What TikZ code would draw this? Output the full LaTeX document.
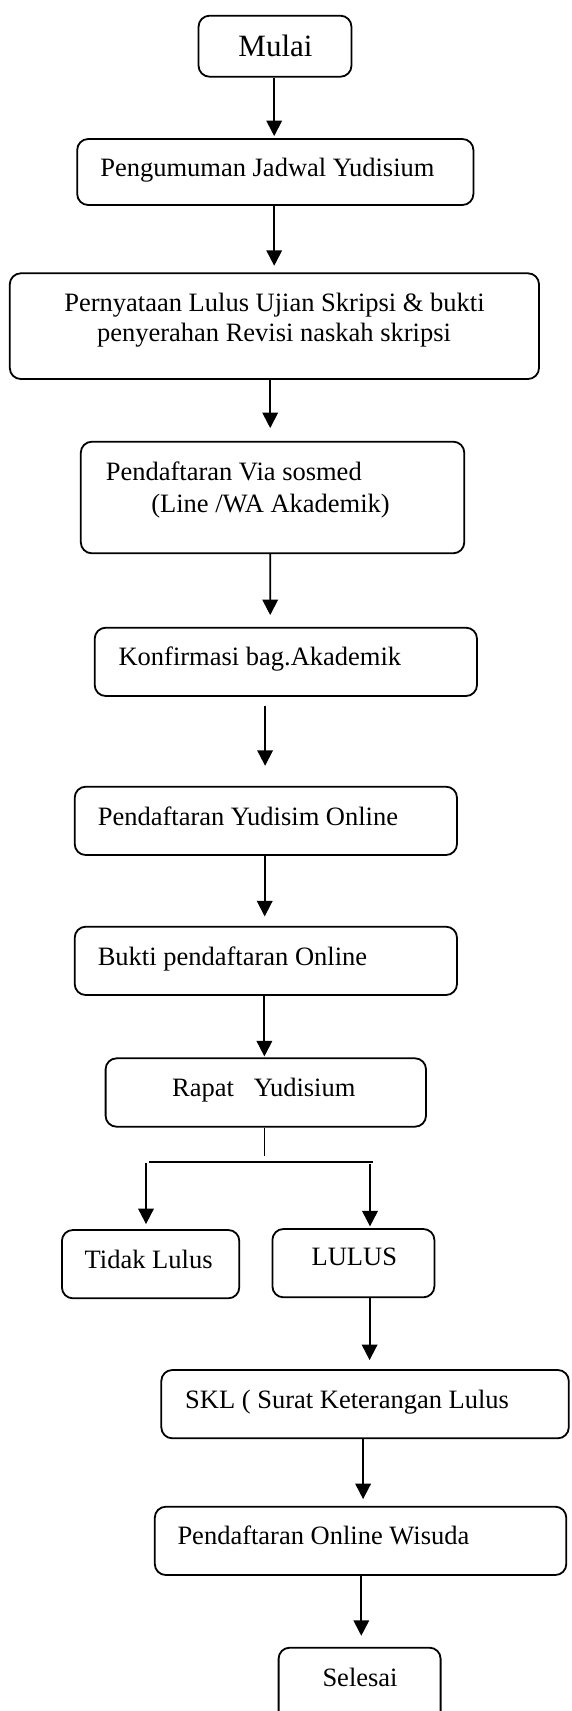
\documentclass[tikz,border=0pt]{standalone}
\usepackage{fontspec}
\setmainfont{Liberation Serif}
\usetikzlibrary{arrows.meta}

\tikzset{
  box/.style={draw, line width=1.8pt, rounded corners=11pt, inner sep=0pt},
  txt/.style={inner sep=0pt, anchor=base west, font=\fontsize{26.5}{30}\selectfont},
  ctxt/.style={txt, anchor=base},
  link/.style={line width=1.9pt},
  arr/.style={link, -{Triangle[width=15.5pt,length=15.5pt]}}
}

\begin{document}
\begin{tikzpicture}[x=1pt, y=-1pt]
\useasboundingbox (0,0) rectangle (571,1711);
\clip (0,0) rectangle (571,1711);

% process boxes
\node[box, minimum width=152.9pt, minimum height=61pt]   (mulai)  at (275,46.2) {};
\node[box, minimum width=396.2pt, minimum height=66pt]   (peng)   at (275.3,172) {};
\node[box, minimum width=529.2pt, minimum height=105.7pt](pern)   at (274.4,326.15) {};
\node[box, minimum width=383.5pt, minimum height=111.6pt](via)    at (272.55,497.5) {};
\node[box, minimum width=382.3pt, minimum height=68.3pt] (konf)   at (285.85,661.85) {};
\node[box, minimum width=382.3pt, minimum height=68.3pt] (yon)    at (265.85,820.85) {};
\node[box, minimum width=382.3pt, minimum height=68.3pt] (bukti)  at (265.85,960.85) {};
\node[box, minimum width=320.4pt, minimum height=68.4pt] (rapat)  at (265.8,1092.5) {};
\node[box, minimum width=177.4pt, minimum height=68.3pt] (tidak)  at (150.6,1264.15) {};
\node[box, minimum width=162pt,   minimum height=68.3pt] (lulus)  at (353.4,1263.15) {};
\node[box, minimum width=407.5pt, minimum height=68.3pt] (skl)    at (365.05,1404.15) {};
\node[box, minimum width=411.5pt, minimum height=68.3pt] (wisuda) at (360.55,1540.85) {};
\node[box, minimum width=162pt,   minimum height=74pt]   (selesai)at (359.6,1684.7) {};

% labels
\node[ctxt, font=\fontsize{31}{34}\selectfont] (t-mulai) at (275.5,56.7) {Mulai};
\node[txt]  (t-peng)   at (100.1,176.7) {Pengumuman Jadwal Yudisium};
\node[ctxt] (t-pern1)  at (274.5,311.7) {Pernyataan Lulus Ujian Skripsi \& bukti};
\node[ctxt] (t-pern2)  at (274,341.7)   {penyerahan Revisi naskah skripsi};
\node[txt]  (t-via1)   at (105.6,480)   {Pendaftaran Via sosmed};
\node[txt]  (t-via2)   at (151.1,512.7) {(Line /WA Akademik)};
\node[txt]  (t-konf)   at (118.4,665)   {Konfirmasi bag.Akademik};
\node[txt]  (t-yon)    at (97.6,825)    {Pendaftaran Yudisim Online};
\node[txt]  (t-bukti)  at (97.6,965)    {Bukti pendaftaran Online};
\node[txt]  (t-rapat)  at (171.9,1096.7){Rapat\ \ \ Yudisium};
\node[txt]  (t-tidak)  at (84.5,1268.3) {Tidak Lulus};
\node[txt]  (t-lulus)  at (311.4,1265.7){LULUS};
\node[txt]  (t-skl)    at (185,1408.3)  {SKL ( Surat Keterangan Lulus};
\node[txt]  (t-wisuda) at (177.3,1544.3){Pendaftaran Online Wisuda};
\node[txt]  (t-sel)    at (322.3,1686)  {Selesai};

% main flow
\draw[arr, shorten >=2pt]  ([xshift=-0.8pt]mulai.south) -- ([xshift=-0.8pt]mulai.south |- peng.north);
\draw[arr, shorten >=6.6pt]([xshift=-1.1pt]peng.south) -- ([xshift=-1.1pt]peng.south |- pern.north);
\draw[arr, shorten >=12.7pt]([xshift=-4.2pt]pern.south) -- ([xshift=-2.35pt]via.north);
\draw[arr, shorten >=11.7pt]([xshift=-2.35pt]via.south) -- ([xshift=-15.65pt]konf.north);
\draw[arr, shorten <=9pt, shorten >=20pt]([xshift=-20.75pt]konf.south) -- ([xshift=-0.75pt]yon.north);
\draw[arr, shorten >=9.4pt]([xshift=-1.15pt]yon.south) -- ([xshift=-1.15pt]bukti.north);
\draw[arr, shorten >=1pt]  ([xshift=-1.45pt]bukti.south) -- ([xshift=-1.4pt]rapat.north);

% branch after the meeting
\coordinate (stemend) at (264.3,1156);
\coordinate (barL) at (149.3,1161.7);
\coordinate (barR) at (373.3,1161.7);
\coordinate (dropL) at (146,1163.3);
\coordinate (dropR) at (370,1164.3);
\draw[line width=1.5pt] ([xshift=-1.5pt]rapat.south) -- (stemend);
\draw[link] (barL) -- (barR);
\draw[arr, shorten >=5pt]   (dropL) -- (dropL |- tidak.north);
\draw[arr, shorten >=1.7pt] (dropR) -- (dropR |- lulus.north);

% remaining flow
\draw[arr, shorten >=9pt]   ([xshift=16.2pt]lulus.south) -- ([xshift=16.2pt]lulus.south |- skl.north);
\draw[arr, shorten >=6.7pt] ([xshift=-1.95pt]skl.south) -- ([xshift=-1.95pt]skl.south |- wisuda.north);
\draw[arr, shorten >=11pt]  ([xshift=0.75pt]wisuda.south) -- ([xshift=0.75pt]wisuda.south |- selesai.north);
\end{tikzpicture}
\end{document}
